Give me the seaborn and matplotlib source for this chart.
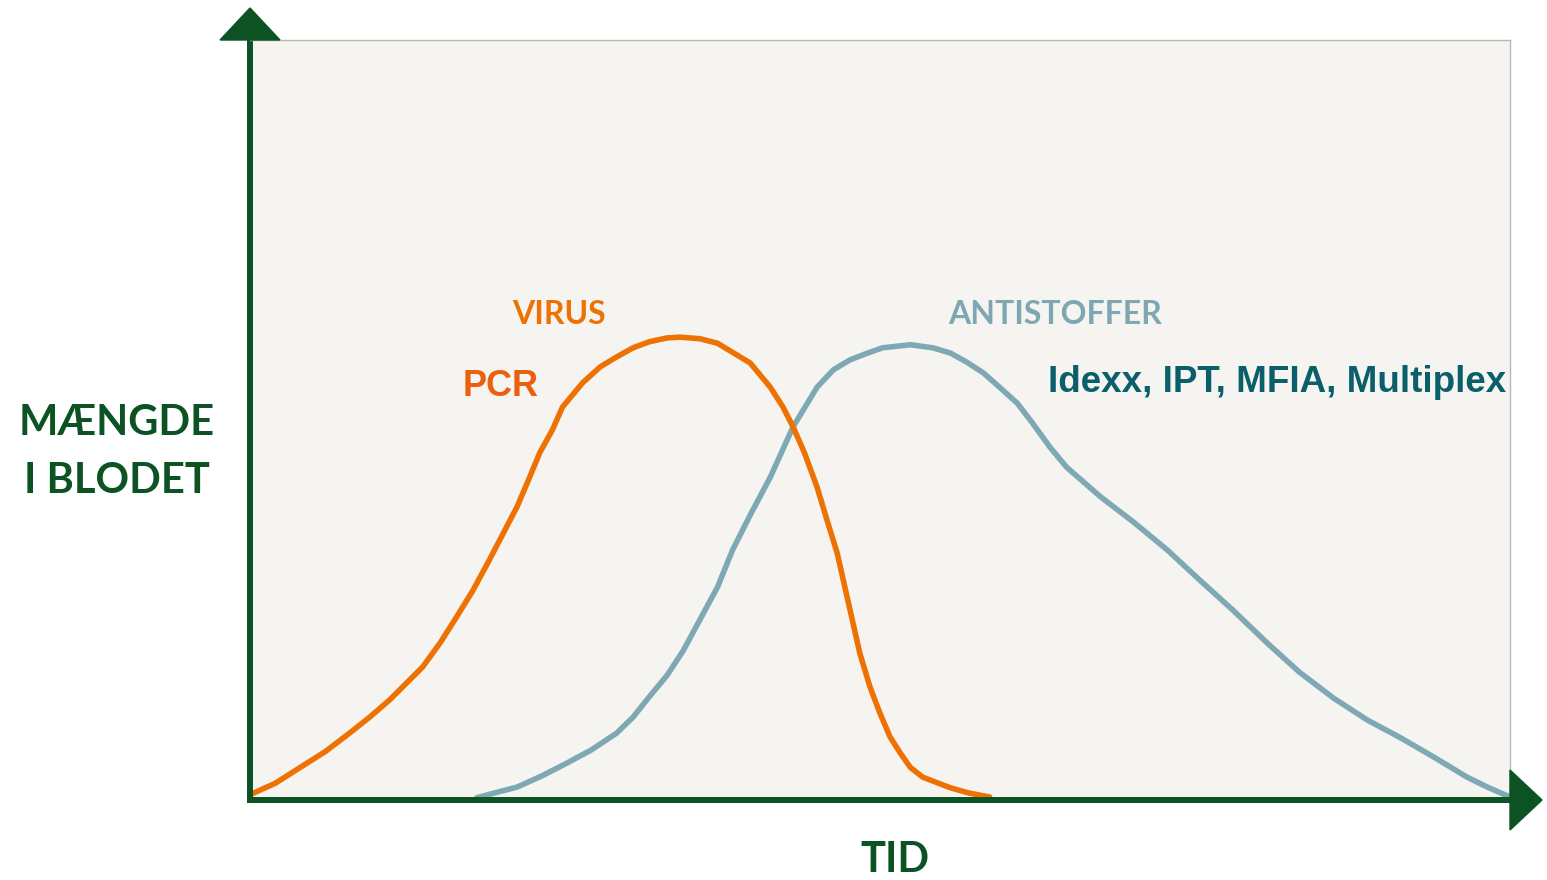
import matplotlib.pyplot as plt
from matplotlib.patches import Polygon
import pandas as pd
import seaborn as sns

# Virus curve (tid, mængde)
virus_tid = [0.0, 2.0, 4.0, 6.0, 7.9, 9.5, 11.1, 13.7, 15.1, 16.4, 17.7, 19.0,
             20.1, 21.2, 22.1, 23.0, 24.0, 24.8, 25.6, 26.4, 27.8, 29.1, 30.4,
             31.7, 33.1, 34.1, 35.7, 37.1, 38.3, 39.7, 41.3, 42.3, 43.1, 44.0,
             45.0, 45.8, 46.6, 47.5, 48.4, 49.2, 50.0, 50.8, 51.6, 52.4, 53.4,
             55.6, 57.1, 58.7]
virus_niveau = [0.7, 2.2, 4.3, 6.4, 8.8, 10.9, 13.2, 17.5, 20.7, 24.1, 27.6, 31.6,
                35.1, 38.6, 42.1, 45.7, 48.7, 51.7, 53.3, 54.9, 57.0, 58.3, 59.5,
                60.3, 60.8, 60.9, 60.7, 60.1, 58.9, 57.5, 54.3, 51.7, 49.1, 45.7,
                41.2, 36.8, 32.5, 25.9, 19.3, 14.9, 11.4, 8.3, 6.2, 4.3, 3.0,
                1.6, 0.9, 0.4]

# Antistof curve
anti_tid = [18.0, 19.8, 21.2, 23.2, 25.2, 27.1, 29.1, 30.4, 31.7, 33.1, 34.4, 35.7,
            37.1, 38.3, 39.7, 41.3, 43.1, 45.0, 46.3, 47.6, 49.0, 50.2, 52.4,
            54.2, 55.6, 56.9, 58.2, 59.5, 60.9, 62.1, 63.5, 64.8, 67.5, 70.1,
            72.8, 75.4, 78.0, 80.7, 83.3, 86.0, 88.7, 91.3, 93.9, 96.6, 98.2, 100.0]
anti_niveau = [0.3, 1.1, 1.7, 3.2, 4.9, 6.6, 8.8, 10.9, 13.6, 16.4, 19.7, 23.7,
               28.0, 32.9, 37.5, 42.5, 49.1, 54.3, 56.6, 57.9, 58.8, 59.5, 59.9,
               59.5, 58.8, 57.6, 56.2, 54.3, 52.2, 49.6, 46.4, 43.8, 39.9, 36.6,
               32.9, 28.9, 25.0, 20.7, 16.8, 13.4, 10.5, 8.2, 5.7, 3.0, 1.7, 0.4]

W, H = 1547, 880
green = '#0c5223'
orange = '#ee7203'
grey_blue = '#7ea9b4'
teal = '#0a5f6b'

sns.set_style('white')
plt.rcParams['font.family'] = ['Lato', 'DejaVu Sans']

fig = plt.figure(figsize=(W / 100, H / 100), dpi=100)
fig.patch.set_facecolor('white')

# panel: x 250..1510 px, y 40..800 px (from top)
ax = fig.add_axes([250 / W, 1 - 800 / H, 1260 / W, 760 / H])
ax.set_facecolor('#f5f4f0')

df_virus = pd.DataFrame({'tid': virus_tid, 'niveau': virus_niveau})
df_anti = pd.DataFrame({'tid': anti_tid, 'niveau': anti_niveau})
sns.lineplot(data=df_anti, x='tid', y='niveau', color=grey_blue, lw=4, ax=ax,
             solid_capstyle='round', solid_joinstyle='round')
sns.lineplot(data=df_virus, x='tid', y='niveau', color=orange, lw=4, ax=ax,
             solid_capstyle='round', solid_joinstyle='round')

ax.set_xlim(0, 100)
ax.set_ylim(0, 100)
ax.set_xticks([])
ax.set_yticks([])
ax.set_xlabel('')
ax.set_ylabel('')
for s in ['left', 'bottom']:
    ax.spines[s].set_color(green)
    ax.spines[s].set_linewidth(4.3)
for s in ['top', 'right']:
    ax.spines[s].set_color('#b8b8b4')
    ax.spines[s].set_linewidth(1)


def fx(px):
    return px / W


def fy(py):
    return 1 - py / H


# arrow heads
fig.patches.append(Polygon([(fx(220), fy(40)), (fx(280), fy(40)), (fx(250), fy(8))],
                           closed=True, color=green, transform=fig.transFigure))
fig.patches.append(Polygon([(fx(1510), fy(770)), (fx(1510), fy(830)), (fx(1542), fy(800))],
                           closed=True, color=green, transform=fig.transFigure))

# labels
fig.text(fx(559), fy(315), 'VIRUS', color=orange, fontsize=23, fontweight='bold',
         ha='center', va='center')
fig.text(fx(501), fy(387), 'PCR', color='#e9610f', fontsize=26, fontweight='bold',
         family='Liberation Sans', ha='center', va='center')
fig.text(fx(1055), fy(315), 'ANTISTOFFER', color='#7ea7b2', fontsize=23, fontweight='bold',
         ha='center', va='center')
fig.text(fx(1277), fy(382), 'Idexx, IPT, MFIA, Multiplex', color=teal, fontsize=26.5,
         fontweight='bold', family='Liberation Sans', ha='center', va='center')
fig.text(fx(117), fy(423), 'MÆNGDE', color=green, fontsize=30, fontweight='bold',
         ha='center', va='center')
fig.text(fx(117), fy(481), 'I BLODET', color=green, fontsize=30, fontweight='bold',
         ha='center', va='center')
fig.text(fx(895), fy(860), 'TID', color=green, fontsize=30, fontweight='bold',
         ha='center', va='center')

fig.savefig('out.png', dpi=100, facecolor='white')
